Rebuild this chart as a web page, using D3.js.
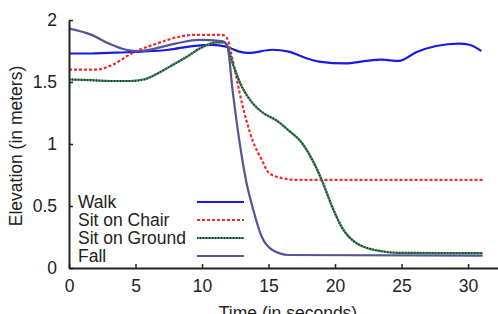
<!DOCTYPE html>
<html>
<head>
<meta charset="utf-8">
<script src="https://cdn.jsdelivr.net/npm/d3@7"></script>
<style>
  body { margin: 0; background: #fff; }
  svg { display: block; font-family: "Liberation Sans", Arial, sans-serif; }
</style>
</head>
<body>
<div class="d3-content"></div>
<script>
// data
const walkT = [0, 1.7, 4.3, 5.5, 7.5, 9.3, 10.8, 11.8, 12.8, 13.5, 15.3, 16.5, 17.9, 18.8, 20.8, 22.3, 23.5, 24.8, 26.1, 27.6, 29.3, 30.1, 31.0];
const walkY = [1.73, 1.73, 1.74, 1.745, 1.76, 1.79, 1.80, 1.785, 1.745, 1.735, 1.76, 1.745, 1.69, 1.665, 1.65, 1.67, 1.68, 1.67, 1.74, 1.79, 1.81, 1.80, 1.75];

const chairT = [0, 2.1, 3.3, 4.7, 6.6, 8.3, 9.3, 11.5, 11.9, 12.3, 13, 13.8, 14.5, 15, 16, 17.3, 31.1];
const chairY = [1.60, 1.60, 1.64, 1.73, 1.81, 1.865, 1.88, 1.88, 1.85, 1.68, 1.33, 1.03, 0.87, 0.77, 0.725, 0.71, 0.71];

const groundT = [0, 1.7, 3.2, 4.6, 5.6, 6.5, 7.5, 8.8, 10, 11.1, 11.6, 11.8, 12.3, 13, 13.8, 14.6, 15.6, 16.5, 17.5, 18.3, 19, 19.8, 20.5, 21.6, 22.3, 23.5, 24.8, 31.1];
const groundY = [1.52, 1.515, 1.508, 1.508, 1.52, 1.56, 1.62, 1.70, 1.78, 1.82, 1.82, 1.81, 1.65, 1.46, 1.33, 1.25, 1.19, 1.11, 1.01, 0.87, 0.71, 0.49, 0.33, 0.2, 0.165, 0.135, 0.122, 0.12];

const fallT = [0, 1.7, 3, 4.3, 5.3, 8, 9.8, 11.5, 11.9, 12.3, 12.8, 13.3, 13.8, 14.5, 15.3, 16.5, 31.1];
const fallY = [1.93, 1.88, 1.81, 1.76, 1.75, 1.81, 1.84, 1.83, 1.79, 1.43, 1.03, 0.71, 0.49, 0.25, 0.145, 0.105, 0.10];

const seriesNames = ['Walk', 'Sit on Chair', 'Sit on Ground', 'Fall'];
const xTicks = [0, 5, 10, 15, 20, 25, 30];
const yTicks = [0, 0.5, 1, 1.5, 2];

// dimensions
const width = 498;
const height = 314;
const margin = { top: 20, right: 0, bottom: 46, left: 69 };
const innerWidth = width - margin.left - margin.right;
const innerHeight = height - margin.top - margin.bottom;

const axisColor = '#222';
const fontSize = 17.5;

const series = [
  { name: seriesNames[0], t: walkT, y: walkY, color: '#1a1ae8', dash: null },
  { name: seriesNames[1], t: chairT, y: chairY, color: '#f22a2a', dash: '3,2' },
  { name: seriesNames[2], t: groundT, y: groundY, color: '#3f8a5c', dash: null, dots: '#1b3527' },
  { name: seriesNames[3], t: fallT, y: fallY, color: '#55559c', dash: null },
];

const xScale = d3.scaleLinear().domain([0, 32.25]).range([0, innerWidth]);
const yScale = d3.scaleLinear().domain([0, 2]).range([innerHeight, 0]);

const svg = d3.select('.d3-content')
  .append('svg')
    .attr('width', width)
    .attr('height', height);

const innerChart = svg.append('g')
  .attr('transform', `translate(${margin.left}, ${margin.top})`);

// lines
const lineGen = d3.line()
  .x(d => xScale(d[0]))
  .y(d => yScale(d[1]))
  .curve(d3.curveMonotoneX);

series.forEach(s => {
  const pts = s.t.map((t, i) => [t, s.y[i]]);
  innerChart.append('path')
    .attr('d', lineGen(pts))
    .attr('fill', 'none')
    .attr('stroke', s.color)
    .attr('stroke-width', 2.2)
    .attr('stroke-dasharray', s.dash);
  if (s.dots) {
    innerChart.append('path')
      .attr('d', lineGen(pts))
      .attr('fill', 'none')
      .attr('stroke', s.dots)
      .attr('stroke-width', 2.2)
      .attr('stroke-dasharray', '1,2');
  }
});

// axes
const bottomAxis = d3.axisBottom(xScale)
  .tickValues(xTicks)
  .tickSizeInner(-4)
  .tickSizeOuter(0)
  .tickPadding(12);
const bottomG = innerChart.append('g')
  .attr('transform', `translate(0, ${innerHeight})`)
  .call(bottomAxis);

const leftAxis = d3.axisLeft(yScale)
  .tickValues(yTicks)
  .tickFormat(d3.format('~g'))
  .tickSizeInner(-4)
  .tickSizeOuter(0)
  .tickPadding(12);
const leftG = innerChart.append('g').call(leftAxis);

[bottomG, leftG].forEach(g => {
  g.select('.domain').attr('stroke', axisColor).attr('stroke-width', 2);
  g.selectAll('.tick line').attr('stroke', axisColor).attr('stroke-width', 1.5);
  g.selectAll('.tick text')
    .attr('fill', '#222')
    .attr('font-size', fontSize)
    .attr('font-family', '"Liberation Sans", Arial, sans-serif');
});

// axis labels
svg.append('text')
  .text('Time (in seconds)')
  .attr('x', 288)
  .attr('y', 319)
  .attr('text-anchor', 'middle')
  .attr('font-size', fontSize)
  .attr('fill', '#222');

svg.append('text')
  .text('Elevation (in meters)')
  .attr('transform', `translate(22, 146) rotate(-90)`)
  .attr('text-anchor', 'middle')
  .attr('font-size', fontSize)
  .attr('fill', '#222');

// legend
const legend = svg.append('g');
series.forEach((s, i) => {
  const y = 202 + i * 18;
  legend.append('text')
    .text(s.name)
    .attr('x', 78)
    .attr('y', y + 6)
    .attr('font-size', fontSize)
    .attr('fill', '#222');
  legend.append('line')
    .attr('x1', 197).attr('x2', 244)
    .attr('y1', y).attr('y2', y)
    .attr('stroke', s.color)
    .attr('stroke-width', 2.2)
    .attr('stroke-dasharray', s.dash);
  if (s.dots) {
    legend.append('line')
      .attr('x1', 197).attr('x2', 244)
      .attr('y1', y).attr('y2', y)
      .attr('stroke', s.dots)
      .attr('stroke-width', 2.2)
      .attr('stroke-dasharray', '1,2');
  }
});
</script>
</body>
</html>
